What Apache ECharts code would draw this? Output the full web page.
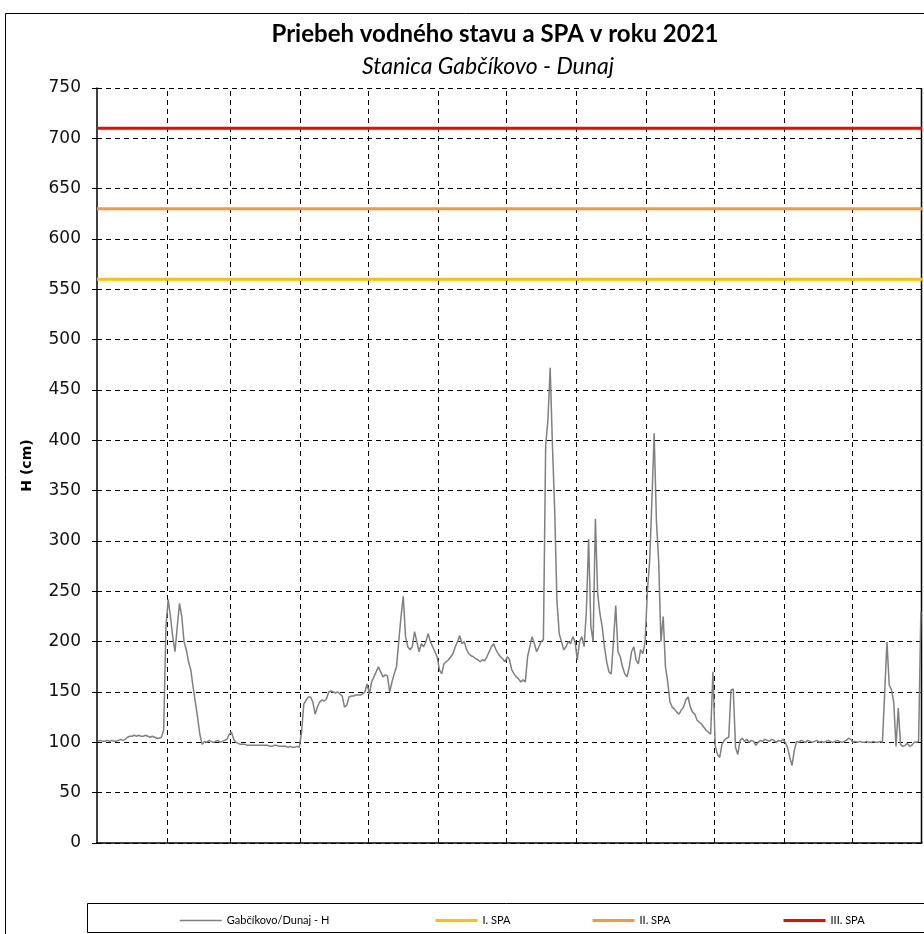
<!DOCTYPE html>
<html>
<head>
<meta charset="utf-8">
<title>Gabčíkovo - Dunaj 2021</title>
<script src="https://cdn.jsdelivr.net/npm/echarts@6/dist/echarts.min.js"></script>
<style>
  html, body { margin: 0; padding: 0; background: #fff; }
  #chart { width: 924px; height: 934px; }
</style>
</head>
<body>
<div id="chart"></div>
<script>
// daily water level H (cm), month by month
var jan = [101,102,101,101,102,101,102,101,101,102,103,102,103,105,106,106,107,106,107,106,106,107,106,105,106,105,104,104,105,112,215];
var feb = [242,225,205,190,215,238,225,200,192,180,172,155,140,125,108,98,101,100,102,101,100,101,102,100,101,102,103,108];
var mar = [110,103,100,99,98,98,98,97,97,97,97,97,97,97,97,97,97,96,96,97,97,96,96,96,96,95,96,95,95,96,95];
var apr = [110,138,142,145,145,140,128,135,140,142,141,143,150,151,150,149,150,148,146,135,137,145,146,146,147,147,147,148,150,158];
var may = [148,160,165,170,175,170,165,167,166,150,160,168,175,200,225,245,205,195,192,195,210,200,190,198,195,200,208,200,195,190,185];
var jun = [172,168,178,180,182,185,188,195,200,206,198,200,192,188,186,185,183,182,180,182,181,185,190,195,198,192,188,185,183,180];
var jul = [185,182,172,168,165,163,160,162,160,185,195,205,198,190,195,200,202,395,420,472,395,330,240,208,200,192,195,200,198,205,200];
var aug = [182,200,205,195,230,302,215,200,322,248,228,215,195,180,170,168,200,236,190,185,175,168,165,175,190,195,182,178,192,188,200];
var sep = [250,280,340,407,320,280,200,225,175,160,140,135,133,130,128,132,135,142,145,135,130,128,122,120,118,115,112,110,108,170];
var oct = [97,88,85,98,102,104,105,152,153,95,88,102,104,101,103,100,102,101,97,100,102,101,103,102,101,103,102,100,102,101,103];
var nov = [100,95,85,77,92,101,100,102,101,100,102,101,100,101,102,100,101,100,101,102,101,100,101,102,101,100,101,102,104,103];
var dec = [100,101,100,101,100,100,101,100,100,101,100,100,101,100,150,200,157,152,140,96,134,98,96,97,99,96,97,100,100,101,230];

// day of year where each month ends (grid lines)
var monthEnds = [31,59,90,120,151,181,212,243,273,304,334];

// flood warning levels (SPA)
var spaNames = ["I. SPA", "II. SPA", "III. SPA"];
var spaLevels = [560, 630, 710];
var spaColors = ["#FFC000", "#F79646", "#FF0000"];

var yTicks = [0, 750, 50]; // min, max, step

var hName = "Gabčíkovo/Dunaj - H";
var hValues = [].concat(jan, feb, mar, apr, may, jun, jul, aug, sep, oct, nov, dec);
var hData = hValues.map(function (v, i) { return [i + 0.5, v]; });

var chart = echarts.init(document.getElementById("chart"));

var series = [
  {
    name: hName,
    type: "line",
    data: hData,
    symbol: "none",
    color: "#808080",
    lineStyle: { width: 1.5, color: "#808080" },
    z: 3,
    markLine: {
      silent: true,
      symbol: "none",
      label: { show: false },
      lineStyle: { color: "#000", type: [5, 4], width: 1 },
      data: monthEnds.map(function (d) { return { xAxis: d }; }),
      z: 1
    }
  }
];

spaNames.forEach(function (n, i) {
  series.push({
    name: n,
    type: "line",
    data: [[0, spaLevels[i]], [365, spaLevels[i]]],
    symbol: "none",
    color: spaColors[i],
    lineStyle: { width: 3, color: spaColors[i] },
    z: 4
  });
});

// one legend per entry so they sit where the original has them
var legendLefts = [174, 429, 586, 777];
var legends = [hName].concat(spaNames).map(function (n, i) {
  return {
    left: legendLefts[i],
    top: 910,
    itemWidth: 42,
    itemHeight: 12,
    itemStyle: { opacity: 0 },
    lineStyle: { width: i === 0 ? 1.5 : 3 },
    textStyle: { fontFamily: "Lato", fontSize: 11, color: "#000" },
    data: [n]
  };
});

chart.setOption({
  animation: false,
  title: [
    {
      text: "Priebeh vodného stavu a SPA v roku 2021",
      left: 490,
      top: 17,
      textAlign: "center",
      textStyle: { fontFamily: "Lato", fontWeight: "bold", fontSize: 24, color: "#000" }
    },
    {
      text: "Stanica Gabčíkovo - Dunaj",
      left: 483,
      top: 50,
      textAlign: "center",
      textStyle: { fontFamily: "Lato", fontStyle: "italic", fontWeight: "normal", fontSize: 23, color: "#000" }
    }
  ],
  legend: legends,
  graphic: [
    {
      type: "rect",
      shape: { x: 5.5, y: 13.5, width: 940, height: 940 },
      style: { fill: "none", stroke: "#000", lineWidth: 1 },
      silent: true
    },
    {
      type: "rect",
      shape: { x: 87.5, y: 903.5, width: 860, height: 29 },
      style: { fill: "none", stroke: "#000", lineWidth: 1 },
      silent: true
    },
    {
      type: "line",
      shape: { x1: 921.5, y1: 88, x2: 921.5, y2: 843 },
      style: { stroke: "#000", lineWidth: 1.5 },
      silent: true
    }
  ],
  grid: { left: 97, right: 2, top: 88, bottom: 91 },
  xAxis: {
    type: "value",
    min: 0,
    max: 365,
    axisLine: { show: true, lineStyle: { color: "#000", width: 1.5 } },
    axisTick: { show: false },
    axisLabel: { show: false },
    splitLine: { show: false }
  },
  yAxis: {
    type: "value",
    min: yTicks[0],
    max: yTicks[1],
    interval: yTicks[2],
    name: "H (cm)",
    nameLocation: "middle",
    nameGap: 63,
    nameRotate: 90,
    nameTextStyle: { fontFamily: "DejaVu Sans", fontWeight: "bold", fontSize: 14, color: "#000" },
    axisLine: { show: true, lineStyle: { color: "#000", width: 1.5 } },
    axisTick: { show: true, length: 5, lineStyle: { color: "#000" } },
    axisLabel: { fontFamily: "DejaVu Sans", fontSize: 17, color: "#111", margin: 16 },
    splitLine: { show: true, lineStyle: { color: "#000", type: [5, 4], width: 1 } }
  },
  series: series
});
</script>
</body>
</html>
